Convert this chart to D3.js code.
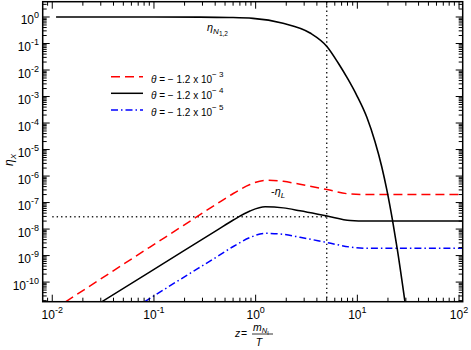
<!DOCTYPE html>
<html><head><meta charset="utf-8">
<script src="https://cdn.jsdelivr.net/npm/d3@7"></script>
<style>
body{margin:0;background:#fff;}
svg{display:block;font-family:"Liberation Sans",Arial,Helvetica,sans-serif;}
</style></head>
<body><svg id="c" width="471" height="350"></svg>
<script>
// ---- data ----
const zN   = [0.0109, 0.1, 0.284, 0.55, 0.94, 1.86, 3.43, 5.04, 6.46, 8.09, 9.86, 12.4, 14.9, 17.4, 19.5, 22.1, 24.7, 29.4];
const etaN = [1, 1, 0.99, 0.96, 0.89, 0.58, 0.25, 0.076, 1.88e-2, 4.5e-3, 1.11e-3, 1.64e-4, 2.0e-5, 2.2e-6, 3.0e-7, 2.3e-8, 1.75e-9, 1.8e-11];

const zRed   = [0.0135, 0.0914, 0.194, 0.414, 0.603, 0.88, 1.24, 1.87, 2.73, 5.04, 8.5, 12.4, 40, 110];
const etaRed = [1.8e-11, 2.1e-9, 1.35e-8, 8.9e-8, 2.2e-7, 4.8e-7, 6.9e-7, 6.3e-7, 4.9e-7, 3.1e-7, 2.1e-7, 2.0e-7, 2.0e-7, 2.0e-7];

const zBlack   = [0.0306, 0.0914, 0.194, 0.414, 0.603, 0.88, 1.24, 1.87, 2.73, 5.04, 8.5, 12.4, 40, 110];
const etaBlack = [1.8e-11, 2.45e-10, 1.48e-9, 8.9e-9, 2.2e-8, 4.8e-8, 6.9e-8, 6.3e-8, 4.9e-8, 3.1e-8, 2.1e-8, 2.0e-8, 2.0e-8, 2.0e-8];

const zBlue   = [0.0805, 0.194, 0.414, 0.603, 0.88, 1.24, 1.87, 2.73, 5.04, 8.5, 12.4, 40, 110];
const etaBlue = [1.8e-11, 1.48e-10, 8.9e-10, 2.2e-9, 4.8e-9, 6.9e-9, 6.3e-9, 4.9e-9, 3.1e-9, 2.1e-9, 1.9e-9, 1.9e-9, 1.9e-9];

const zMark = 5;        // vertical dotted line
const etaObs = 2.9e-8;  // horizontal dotted line
const obsFrom = 0.01;

const xExps = [-2, -1, 0, 1, 2];
const yExps = [0, -1, -2, -3, -4, -5, -6, -7, -8, -9, -10];
const legendLabels = [["\u2212 1.2 x 10", "\u2212 3"], ["\u2212 1.2 x 10", "\u2212 4"], ["\u2212 1.2 x 10", "\u2212 5"]];

// ---- layout ----
const L = 42.7, R = 462.7, T = 1.7, B = 301.7;
const svg = d3.select("#c");
const x = d3.scaleLog().domain([Math.pow(10, -2.094), Math.pow(10, 2.036)]).range([L, R]);
const y = d3.scaleLog().domain([Math.pow(10, -10.74), Math.pow(10, 0.577)]).range([B, T]);

svg.append("defs").append("clipPath").attr("id", "clip")
  .append("rect").attr("x", L).attr("y", T).attr("width", R - L).attr("height", B - T);

const line = d3.line().x(d => x(d[0])).y(d => y(d[1])).curve(d3.curveMonotoneX);
const pairs = (a, b) => a.map((v, i) => [v, b[i]]);

const g = svg.append("g").attr("clip-path", "url(#clip)");

// dotted reference lines
g.append("line").attr("x1", x(zMark)).attr("x2", x(zMark)).attr("y1", T).attr("y2", B)
  .attr("stroke", "#222").attr("stroke-width", 1.4).attr("stroke-dasharray", "1.4,3");
g.append("line").attr("x1", x(obsFrom)).attr("x2", x(zMark)).attr("y1", y(etaObs)).attr("y2", y(etaObs))
  .attr("stroke", "#222").attr("stroke-width", 1.4).attr("stroke-dasharray", "1.4,3");

g.append("path").datum(pairs(zRed, etaRed)).attr("d", line).attr("fill", "none")
  .attr("stroke", "#ff0000").attr("stroke-width", 1.5).attr("stroke-dasharray", "9,5");
g.append("path").datum(pairs(zBlack, etaBlack)).attr("d", line).attr("fill", "none")
  .attr("stroke", "#000").attr("stroke-width", 1.5);
g.append("path").datum(pairs(zBlue, etaBlue)).attr("d", line).attr("fill", "none")
  .attr("stroke", "#0000ff").attr("stroke-width", 1.5).attr("stroke-dasharray", "7,3,1.5,3");
g.append("path").datum(pairs(zN, etaN)).attr("d", line).attr("fill", "none")
  .attr("stroke", "#000").attr("stroke-width", 1.6);

// ---- axes ----
const ax = svg.append("g");
ax.append("rect").attr("x", L).attr("y", T).attr("width", R - L).attr("height", B - T)
  .attr("fill", "none").attr("stroke", "#000").attr("stroke-width", 1.5);

function logTicks(scale) {
  const [a, b] = scale.domain();
  const out = [];
  for (let e = Math.floor(Math.log10(a)); e <= Math.ceil(Math.log10(b)); e++) {
    for (let k = 1; k <= 9; k++) {
      const v = k * Math.pow(10, e);
      if (v >= a && v <= b) out.push({v, major: k === 1});
    }
  }
  return out;
}
const MAJ = 7, MIN = 4;
logTicks(x).forEach(t => {
  const px = x(t.v), len = t.major ? MAJ : MIN;
  ax.append("line").attr("x1", px).attr("x2", px).attr("y1", B).attr("y2", B - len).attr("stroke", "#000").attr("stroke-width", 1);
  ax.append("line").attr("x1", px).attr("x2", px).attr("y1", T).attr("y2", T + len).attr("stroke", "#000").attr("stroke-width", 1);
});
logTicks(y).forEach(t => {
  const py = y(t.v), len = t.major ? MAJ : MIN;
  ax.append("line").attr("y1", py).attr("y2", py).attr("x1", L).attr("x2", L + len).attr("stroke", "#000").attr("stroke-width", 1);
  ax.append("line").attr("y1", py).attr("y2", py).attr("x1", R).attr("x2", R - len).attr("stroke", "#000").attr("stroke-width", 1);
});

function powLabel(sel, e) {
  sel.append("tspan").text("10");
  sel.append("tspan").attr("dy", -6).attr("font-size", 9).text(String(e));
}
xExps.forEach(e => {
  const t = ax.append("text").attr("x", x(Math.pow(10, e))).attr("y", 319)
    .attr("text-anchor", "middle").attr("font-size", 12).attr("fill", "#000");
  powLabel(t, e);
});
yExps.forEach(e => {
  const t = ax.append("text").attr("x", 39).attr("y", y(Math.pow(10, e)) + 7.5)
    .attr("text-anchor", "end").attr("font-size", 12).attr("fill", "#000");
  powLabel(t, e);
});

// y axis title  eta_X
const yt = svg.append("text").attr("transform", "translate(13,160) rotate(-90)")
  .attr("text-anchor", "middle").attr("font-size", 12).attr("fill", "#000");
yt.append("tspan").attr("font-style", "italic").text("\u03b7");
yt.append("tspan").attr("font-style", "italic").attr("font-size", 8).attr("dy", 3).text("X");

// x axis title  z = m_{N_I} / T
const xt = svg.append("g").attr("fill", "#000");
xt.append("text").attr("x", 235).attr("y", 337).attr("font-size", 10.5).attr("font-style", "italic").text("z");
xt.append("text").attr("x", 241).attr("y", 337).attr("font-size", 10.5).text("=");
const num = xt.append("text").attr("x", 253).attr("y", 331).attr("font-size", 10.5);
num.append("tspan").attr("font-style", "italic").text("m");
num.append("tspan").attr("font-style", "italic").attr("font-size", 7.5).attr("dy", 2).text("N");
num.append("tspan").attr("font-size", 5.5).attr("dy", 1.5).text("I");
xt.append("line").attr("x1", 252).attr("x2", 273).attr("y1", 334).attr("y2", 334).attr("stroke", "#000").attr("stroke-width", 0.8);
xt.append("text").attr("x", 259).attr("y", 346).attr("font-size", 10.5).attr("font-style", "italic").attr("text-anchor", "middle").text("T");

// curve annotations
const a1 = svg.append("text").attr("x", 207).attr("y", 31).attr("font-size", 11).attr("fill", "#000");
a1.append("tspan").attr("font-style", "italic").text("\u03b7");
a1.append("tspan").attr("font-style", "italic").attr("font-size", 8).attr("dy", 3).text("N");
a1.append("tspan").attr("font-size", 6.5).attr("dy", 1.5).text("1,2");

const a2 = svg.append("text").attr("x", 271).attr("y", 195).attr("font-size", 11).attr("fill", "#000");
a2.append("tspan").text("-");
a2.append("tspan").attr("font-style", "italic").text("\u03b7");
a2.append("tspan").attr("font-style", "italic").attr("font-size", 8).attr("dy", 3).text("L");

// legend
const legColors = ["#ff0000", "#000", "#0000ff"];
const legDash = ["9,5", null, "7,3,1.5,3"];
const legY = [76.7, 93.3, 110];
legendLabels.forEach((lab, i) => {
  const ln = svg.append("line").attr("x1", 111).attr("x2", 143).attr("y1", legY[i]).attr("y2", legY[i])
    .attr("stroke", legColors[i]).attr("stroke-width", 1.5);
  if (legDash[i]) ln.attr("stroke-dasharray", legDash[i]);
  const t = svg.append("text").attr("x", 151).attr("y", legY[i] + 6).attr("font-size", 10).attr("fill", "#000");
  t.append("tspan").attr("font-style", "italic").text("\u03b8");
  t.append("tspan").text(" = " + lab[0]);
  t.append("tspan").attr("dy", -6).attr("font-size", 8).text(lab[1]);
});
</script>
</body></html>
